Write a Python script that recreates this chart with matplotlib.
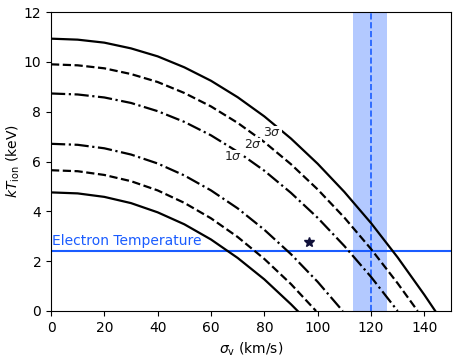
import matplotlib
matplotlib.use("Agg")
import matplotlib.pyplot as plt

# sigma_v (km/s) grid at which curves were read, and kT_ion (keV) values
sig_solid_out = [0, 10, 20, 30, 40, 50, 60, 70, 80, 90, 100, 110, 120, 130, 140, 144.1]
kt_solid_out = [10.93, 10.89, 10.77, 10.54, 10.22, 9.78, 9.24, 8.58, 7.81, 6.92, 5.91, 4.78, 3.53, 2.15, 0.65, 0.0]

sig_dash_out = [0, 10, 20, 30, 40, 50, 60, 70, 80, 90, 100, 110, 120, 130, 137.5]
kt_dash_out = [9.90, 9.86, 9.74, 9.51, 9.19, 8.75, 8.21, 7.55, 6.78, 5.89, 4.88, 3.75, 2.49, 1.11, 0.0]

sig_dd_out = [0, 10, 20, 30, 40, 50, 60, 70, 80, 90, 100, 110, 120, 130]
kt_dd_out = [8.73, 8.69, 8.57, 8.35, 8.02, 7.59, 7.05, 6.39, 5.63, 4.74, 3.74, 2.61, 1.37, 0.0]

sig_dd_in = [0, 10, 20, 30, 40, 50, 60, 70, 80, 90, 100, 109.4]
kt_dd_in = [6.71, 6.67, 6.53, 6.28, 5.92, 5.44, 4.84, 4.12, 3.26, 2.28, 1.17, 0.0]

sig_dash_in = [0, 10, 20, 30, 40, 50, 60, 70, 80, 90, 99.4]
kt_dash_in = [5.65, 5.61, 5.46, 5.21, 4.84, 4.34, 3.72, 2.97, 2.09, 1.08, 0.0]

sig_solid_in = [0, 10, 20, 30, 40, 50, 60, 70, 80, 90, 92.5]
kt_solid_in = [4.76, 4.72, 4.58, 4.33, 3.96, 3.48, 2.87, 2.13, 1.27, 0.27, 0.0]

electron_temp = 2.41
sigma_obs = 120.0
sigma_obs_lo = 113.3
sigma_obs_hi = 126.0
star_x = 96.8
star_y = 2.75

sigma_labels = ["1$\\sigma$", "2$\\sigma$", "3$\\sigma$"]
sigma_label_x = [68.2, 75.7, 82.9]
sigma_label_y = [6.2, 6.68, 7.16]

blue = "#1a5cff"
band = "#b3c9ff"

fig = plt.figure(figsize=(4.58, 3.57), dpi=100)
ax = fig.add_axes([51 / 458, 46 / 357, 400 / 458, 299 / 357])

ax.axvspan(sigma_obs_lo, sigma_obs_hi, color=band, lw=0, zorder=0)
ax.axvline(sigma_obs, color=blue, ls="--", lw=1.2, zorder=1)
ax.axhline(electron_temp, color=blue, lw=1.5, zorder=1)
ax.text(0.4, electron_temp + 0.12, "Electron Temperature", color=blue,
        fontsize=10, ha="left", va="bottom")

lw = 1.6
ax.plot(sig_solid_out, kt_solid_out, color="k", ls="-", lw=lw)
ax.plot(sig_dash_out, kt_dash_out, color="k", ls="--", lw=lw)
ax.plot(sig_dd_out, kt_dd_out, color="k", ls="-.", lw=lw)
ax.plot(sig_dd_in, kt_dd_in, color="k", ls="-.", lw=lw)
ax.plot(sig_dash_in, kt_dash_in, color="k", ls="--", lw=lw)
ax.plot(sig_solid_in, kt_solid_in, color="k", ls="-", lw=lw)

for lab, lx, ly in zip(sigma_labels, sigma_label_x, sigma_label_y):
    ax.text(lx, ly, lab, fontsize=9, color="#222222", ha="center", va="center",
            bbox=dict(facecolor="white", edgecolor="none", pad=0.3))

ax.plot([star_x], [star_y], marker="*", color="#10103a", ms=7, ls="none")

ax.set_xlim(0, 150)
ax.set_ylim(0, 12)
ax.set_xticks([0, 20, 40, 60, 80, 100, 120, 140])
ax.set_yticks([0, 2, 4, 6, 8, 10, 12])
ax.tick_params(labelsize=10)
ax.set_xlabel("$\\sigma_{\\rm v}$ (km/s)", fontsize=10)
ax.set_ylabel("$kT_{\\rm ion}$ (keV)", fontsize=10, labelpad=1)

fig.savefig("out.png", dpi=100)
